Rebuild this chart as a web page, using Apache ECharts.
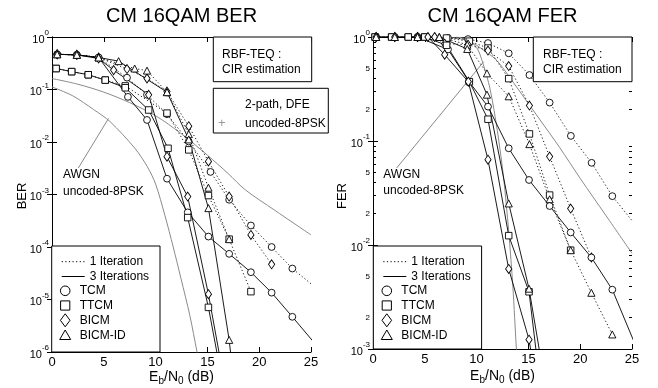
<!DOCTYPE html>
<html><head><meta charset="utf-8">
<script src="https://cdn.jsdelivr.net/npm/echarts@6/dist/echarts.min.js"></script>
<style>html,body{margin:0;padding:0;background:#fff}#c{width:658px;height:388px}</style>
</head><body><div id="c"></div>
<script>
// ---------- tick values ----------
const xTicks = [0, 5, 10, 15, 20, 25];
const berTicks = [1e-6, 1e-5, 1e-4, 1e-3, 1e-2, 1e-1, 1];
const ferTicks = [1e-3, 1e-2, 1e-1, 1];
const ferMinorLabelVals = [2e-3, 5e-3, 2e-2, 5e-2, 0.2, 0.5];
const ferMinorTickVals = [2e-3,3e-3,4e-3,5e-3,6e-3,7e-3,8e-3,9e-3,2e-2,3e-2,4e-2,5e-2,6e-2,7e-2,8e-2,9e-2,0.2,0.3,0.4,0.5,0.6,0.7,0.8,0.9];

// ---------- BER (left) ----------
const berTcm1X = [0.5,2.4,4.5,7.24,9.17,11.1,13.2,15.3,17.1,19.2,21.2,23.2,25.3];
const berTcm1Y = [0.468,0.457,0.407,0.168,0.0794,0.0339,0.0102,2.69e-3,7.94e-4,2.57e-4,1.0e-4,3.89e-5,1.78e-5];
const berTcm3X = [0.5,2.4,4.5,7.33,9.17,11.1,13.1,15.1,17.1,19.2,21.2,23.2,25.3];
const berTcm3Y = [0.468,0.457,0.407,0.0724,0.0263,2.0e-3,4.57e-4,1.58e-4,7.41e-5,3.31e-5,1.35e-5,4.68e-6,1.51e-6];
const berTtcm1X = [0.4,1.9,3.5,5.14,7.07,11.1,13.2,15.1,17.1,19.2];
const berTtcm1Y = [0.251,0.219,0.191,0.151,0.117,0.0355,7.08e-3,9.55e-4,1.41e-4,1.41e-5];
const berTtcm3X = [0.4,1.9,3.5,5.14,7.07,9.33,11.2,13.1,15.1,16.1];
const berTtcm3Y = [0.251,0.219,0.191,0.151,0.108,0.0407,7.59e-3,3.63e-4,7.08e-6,6.31e-7];
const berBicm1X = [0.5,2.4,4.5,7.24,9.17,11.1,13.2,15.1,17.1,19.2,21.2];
const berBicm1Y = [0.468,0.457,0.407,0.245,0.162,0.0912,0.02,4.27e-3,9.12e-4,1.70e-4,4.68e-5];
const berBicm3X = [0.5,2.4,4.5,5.95,9.33,11.1,13.1,15.1,16.3];
const berBicm3Y = [0.468,0.457,0.389,0.234,0.0794,5.25e-3,9.12e-4,1.26e-5,6.31e-7];
const berBicmId1X = [0.5,2.4,4.5,7.98,9.17,11.1,13.2,15.1,17.1];
const berBicmId1Y = [0.468,0.457,0.407,0.251,0.229,0.0891,0.0141,1.35e-3,1.41e-4];
const berBicmId3X = [0.5,2.4,4.5,6.43,11.1,13.2,15.1,17.1,17.4];
const berBicmId3Y = [0.468,0.457,0.407,0.347,0.0891,0.0112,5.50e-4,1.70e-6,5.01e-7];
const berAwgnX = [0,2,4,5.6,8,9.2,10,10.9,11.7,12.45,13.3,14.0,14.3];
const berAwgnY = [0.112,0.0759,0.0417,0.0245,7.59e-3,3.39e-3,1.58e-3,3.98e-4,1.0e-4,2.51e-5,5.01e-6,1.0e-6,5.01e-7];
const berDfeX = [0,2.5,5,7.5,10,12.4,15,17,18.65,21.5,25];
const berDfeY = [0.162,0.126,0.0891,0.0562,0.0316,0.0148,5.62e-3,2.51e-3,1.23e-3,5.01e-4,1.70e-4];

// ---------- FER (right) ----------
const ferTcm1X = [0.3,2.1,4.3,7.24,9.17,11.1,13.1,15.1,17.05,19.1,21.1,23.1,25.2];
const ferTcm1Y = [1,1,1,0.977,0.955,0.875,0.697,0.431,0.234,0.112,0.0617,0.0295,0.0162];
const ferTcm3X = [0.3,2.1,4.3,7.24,9.27,11.1,13.1,15.06,17.05,19.08,21.08,23.1,25.2];
const ferTcm3Y = [1,1,1,0.759,0.372,0.214,0.0851,0.0422,0.0237,0.0132,7.59e-3,3.72e-3,1.17e-3];
const ferTtcm1X = [0.2,1.8,3.4,5.0,7.1,9.3,11.1,13.1,15.1,17.05,19.08];
const ferTtcm1Y = [1,1,1,1,0.977,0.912,0.783,0.398,0.117,0.0302,8.91e-3];
const ferTtcm3X = [0.2,1.8,3.4,5.0,7.1,9.3,11.1,13.1,15.06,16.2];
const ferTtcm3Y = [1,1,1,1,0.832,0.372,0.162,0.0123,3.55e-3,3.98e-4];
const ferBicm1X = [0.3,2.1,4.3,5.95,6.92,9.17,11.1,13.1,15.1,17.05,19.08,21.08];
const ferBicm1Y = [1,1,1,1,0.863,0.843,0.741,0.525,0.219,0.0708,0.0224,7.59e-3];
const ferBicm3X = [0.3,2.1,4.3,5.3,6.92,9.2,11.1,13.1,15.06,15.7];
const ferBicm3Y = [1,1,1,1,0.676,0.372,0.0661,5.89e-3,1.23e-3,5.01e-4];
const ferBicmId1X = [0.3,2.1,4.3,6.4,9.1,11.0,13.1,15.1,17.05,19.08,21.08,23.1];
const ferBicmId1Y = [1,1,1,1,0.843,0.447,0.269,0.0933,0.0275,8.91e-3,3.47e-3,1.38e-3];
const ferBicmId3X = [0.3,2.1,4.3,6.4,9.1,11.0,13.1,15.06,17.05];
const ferBicmId3Y = [1,1,1,1,0.767,0.279,0.0251,3.80e-3,2.51e-4];
const ferAwgnX = [8,9,10,10.6,11.3,12,12.6,13.1,13.5,13.84,14.1];
const ferAwgnY = [1,0.955,0.794,0.562,0.316,0.126,0.0447,0.0135,3.98e-3,1.0e-3,3.98e-4];
const ferDfeX = [6,8,9,10,11,12,14,16,18,20,22.5,25];
const ferDfeY = [1,0.977,0.933,0.832,0.708,0.589,0.316,0.166,0.0871,0.0437,0.0191,8.32e-3];

// annotation anchor points on the AWGN curves
const awgnPointerBer = [5.46, 0.0282];
const awgnPointerFer = [10.68, 0.578];

// ---------- chart ----------
const FONT = 'Liberation Sans, Arial, sans-serif';
const chart = echarts.init(document.getElementById('c'), null, {renderer: 'canvas'});
const SYM = {o: 'circle', s: 'rect', d: 'diamond', t: 'triangle'};
const SIZE = {o: 6.8, s: 6.5, d: [6.2, 9], t: [7.2, 7]};
const zip = (xs, ys) => xs.map((x, i) => [x, ys[i]]);

function mk(xs, ys, sym, dotted, g) {
  return {
    type: 'line', xAxisIndex: g * 2, yAxisIndex: g * 2, data: zip(xs, ys),
    symbol: SYM[sym], symbolSize: SIZE[sym], showAllSymbol: true, clip: true,
    itemStyle: {color: '#fff', borderColor: '#000', borderWidth: 0.9},
    lineStyle: {color: '#000', width: 0.9, type: dotted ? [1.2, 2.4] : 'solid'},
    z: 4, silent: true, emphasis: {disabled: true}
  };
}
function gray(xs, ys, g) {
  return {
    type: 'line', xAxisIndex: g * 2, yAxisIndex: g * 2, data: zip(xs, ys),
    symbol: 'none', smooth: 0.3, clip: true,
    lineStyle: {color: '#8a8a8a', width: 1}, z: 2, silent: true
  };
}

const decRich = {
  b: {fontSize: 11, fontFamily: FONT, color: '#000', lineHeight: 16, verticalAlign: 'bottom'},
  s: {fontSize: 8, fontFamily: FONT, color: '#000', lineHeight: 8, verticalAlign: 'top'},
  m: {fontSize: 8, fontFamily: FONT, color: '#000', lineHeight: 16}
};
function yFmt(v) {
  const e = Math.floor(Math.log10(v) + 1e-9);
  const mant = Math.round(v / Math.pow(10, e));
  if (mant === 1) return '{b|10}{s|' + e + '}';
  return '{m|' + mant + '}';
}

function xAx(g, pos) {
  return {
    gridIndex: g, type: 'value', min: 0, max: 25, interval: 5, position: pos,
    axisLine: {show: true, lineStyle: {color: '#000', width: 1}},
    axisTick: {show: true, inside: true, length: 5, customValues: xTicks, lineStyle: {color: '#000'}},
    axisLabel: {show: pos === 'bottom', color: '#000', fontSize: 13, fontFamily: FONT, margin: 4},
    splitLine: {show: false}
  };
}
function yAx(g, pos, min, ticks, labels, len, lineShow) {
  return {
    gridIndex: g, type: 'log', logBase: 10, min: min, max: 1, position: pos,
    axisLine: {show: lineShow, lineStyle: {color: '#000', width: 1}},
    axisTick: {show: true, inside: true, length: len, customValues: ticks, lineStyle: {color: '#000'}},
    axisLabel: labels ? {show: true, customValues: labels, formatter: yFmt, rich: decRich, margin: 3} : {show: false},
    splitLine: {show: false}, minorTick: {show: false}
  };
}

const option = {
  animation: false,
  backgroundColor: '#fff',
  grid: [
    {left: 52, top: 37, width: 259, height: 315},
    {left: 373, top: 37, width: 259, height: 312}
  ],
  xAxis: [xAx(0, 'bottom'), xAx(0, 'top'), xAx(1, 'bottom'), xAx(1, 'top')],
  yAxis: [
    yAx(0, 'left', 1e-6, berTicks, berTicks, 5, true),
    yAx(0, 'right', 1e-6, berTicks, null, 5, true),
    yAx(1, 'left', 1e-3, ferTicks, ferTicks.concat(ferMinorLabelVals), 5, true),
    yAx(1, 'right', 1e-3, ferTicks, null, 5, true),
    yAx(1, 'left', 1e-3, ferMinorTickVals, null, 3, false),
    yAx(1, 'right', 1e-3, ferMinorTickVals, null, 3, false)
  ],
  series: [
    gray(berAwgnX, berAwgnY, 0), gray(berDfeX, berDfeY, 0),
    mk(berTcm1X, berTcm1Y, 'o', true, 0), mk(berTtcm1X, berTtcm1Y, 's', true, 0),
    mk(berBicm1X, berBicm1Y, 'd', true, 0), mk(berBicmId1X, berBicmId1Y, 't', true, 0),
    mk(berTcm3X, berTcm3Y, 'o', false, 0), mk(berTtcm3X, berTtcm3Y, 's', false, 0),
    mk(berBicm3X, berBicm3Y, 'd', false, 0), mk(berBicmId3X, berBicmId3Y, 't', false, 0),
    gray(ferAwgnX, ferAwgnY, 1), gray(ferDfeX, ferDfeY, 1),
    mk(ferTcm1X, ferTcm1Y, 'o', true, 1), mk(ferTtcm1X, ferTtcm1Y, 's', true, 1),
    mk(ferBicm1X, ferBicm1Y, 'd', true, 1), mk(ferBicmId1X, ferBicmId1Y, 't', true, 1),
    mk(ferTcm3X, ferTcm3Y, 'o', false, 1), mk(ferTtcm3X, ferTtcm3Y, 's', false, 1),
    mk(ferBicm3X, ferBicm3Y, 'd', false, 1), mk(ferBicmId3X, ferBicmId3Y, 't', false, 1)
  ]
};
chart.setOption(option);

// ---------- decorations ----------
const Z = 100;
function txt(x, y, text, size, align, extra) {
  return Object.assign({type: 'text', x: x, y: y, z: Z, silent: true,
    style: {text: text, fontSize: size, fontFamily: FONT, fill: '#000', align: align || 'left', verticalAlign: 'middle'}}, extra || {});
}
function box(x, y, w, h) {
  return {type: 'rect', z: Z - 1, silent: true, shape: {x: x, y: y, width: w, height: h},
    style: {fill: '#fff', stroke: '#000', lineWidth: 1}};
}
function legend(x0, bottom) {
  const y0 = 246;
  const els = [box(x0, y0, 108.3, bottom - y0)];
  const rows = [261.7, 276.5, 290.8, 305.5, 320.3, 335.5];
  els.push({type: 'line', z: Z, silent: true, shape: {x1: x0 + 10, y1: rows[0], x2: x0 + 33, y2: rows[0]},
    style: {stroke: '#000', lineWidth: 1, lineDash: [1.2, 2.4]}});
  els.push(txt(x0 + 38, rows[0], '1 Iteration', 12));
  els.push({type: 'line', z: Z, silent: true, shape: {x1: x0 + 10, y1: rows[1], x2: x0 + 33, y2: rows[1]},
    style: {stroke: '#000', lineWidth: 1}});
  els.push(txt(x0 + 38, rows[1], '3 Iterations', 12));
  const cx = x0 + 13.5;
  const st = {fill: '#fff', stroke: '#000', lineWidth: 1};
  els.push({type: 'circle', z: Z, silent: true, shape: {cx: cx, cy: rows[2], r: 4.8}, style: st});
  els.push(txt(x0 + 28, rows[2], 'TCM', 12));
  els.push({type: 'rect', z: Z, silent: true, shape: {x: cx - 4.6, y: rows[3] - 4.6, width: 9.2, height: 9.2}, style: st});
  els.push(txt(x0 + 28, rows[3], 'TTCM', 12));
  els.push({type: 'polygon', z: Z, silent: true, shape: {points: [[cx, rows[4] - 6.5], [cx + 4.8, rows[4]], [cx, rows[4] + 6.5], [cx - 4.8, rows[4]]]}, style: st});
  els.push(txt(x0 + 28, rows[4], 'BICM', 12));
  els.push({type: 'polygon', z: Z, silent: true, shape: {points: [[cx, rows[5] - 5.5], [cx + 5.5, rows[5] + 4], [cx - 5.5, rows[5] + 4]]}, style: st});
  els.push(txt(x0 + 28, rows[5], 'BICM-ID', 12));
  return els;
}
const xNameRich = {
  n: {fontSize: 14, fontFamily: FONT, color: '#000', lineHeight: 14, verticalAlign: 'top'},
  u: {fontSize: 10, fontFamily: FONT, color: '#000', lineHeight: 10, padding: [6, 0, 0, 0], verticalAlign: 'top'}
};
const xNameText = '{n|E}{u|b}{n|/N}{u|0}{n| (dB)}';

const pBer = chart.convertToPixel({xAxisIndex: 0, yAxisIndex: 0}, awgnPointerBer);
const pFer = chart.convertToPixel({xAxisIndex: 2, yAxisIndex: 2}, awgnPointerFer);

let g = [];
g.push(txt(181.5, 16, 'CM 16QAM BER', 20, 'center'));
g.push(txt(502.5, 16, 'CM 16QAM FER', 20, 'center'));
g.push(txt(22, 196, 'BER', 13, 'center', {rotation: Math.PI / 2}));
g.push(txt(342, 196, 'FER', 13, 'center', {rotation: Math.PI / 2}));
g.push({type: 'text', x: 181.5, y: 377, z: Z, silent: true, style: {text: xNameText, rich: xNameRich, align: 'center', verticalAlign: 'middle'}});
g.push({type: 'text', x: 502.5, y: 376, z: Z, silent: true, style: {text: xNameText, rich: xNameRich, align: 'center', verticalAlign: 'middle'}});
// RBF-TEQ boxes
g.push(box(213.3, 37, 98.4, 44.7));
g.push(txt(222, 55, 'RBF-TEQ :', 12));
g.push(txt(222, 70, 'CIR estimation', 12));
g.push(box(533.3, 37, 98.7, 44.7));
g.push(txt(543, 55, 'RBF-TEQ :', 12));
g.push(txt(543, 70, 'CIR estimation', 12));
// 2-path DFE box
g.push(box(213.3, 88.3, 115, 44.7));
g.push(txt(245, 105, '2-path, DFE', 12));
g.push(txt(221.7, 123.5, '+', 13, 'center', {style: {text: '+', fontSize: 13, fontFamily: FONT, fill: '#999', align: 'center', verticalAlign: 'middle'}}));
g.push(txt(245, 123.5, 'uncoded-8PSK', 12));
// AWGN annotations
g.push(txt(63, 175, 'AWGN', 12));
g.push(txt(63, 191.5, 'uncoded-8PSK', 12));
g.push(txt(383.3, 175, 'AWGN', 12));
g.push(txt(383.3, 190.5, 'uncoded-8PSK', 12));
g.push({type: 'line', z: 3, silent: true, shape: {x1: 78.3, y1: 168, x2: pBer[0], y2: pBer[1]}, style: {stroke: '#8a8a8a', lineWidth: 1}});
g.push({type: 'line', z: 3, silent: true, shape: {x1: 396.7, y1: 168, x2: pFer[0], y2: pFer[1]}, style: {stroke: '#8a8a8a', lineWidth: 1}});
g = g.concat(legend(51.7, 352)).concat(legend(373.3, 349));
chart.setOption({graphic: g});
</script></body></html>
